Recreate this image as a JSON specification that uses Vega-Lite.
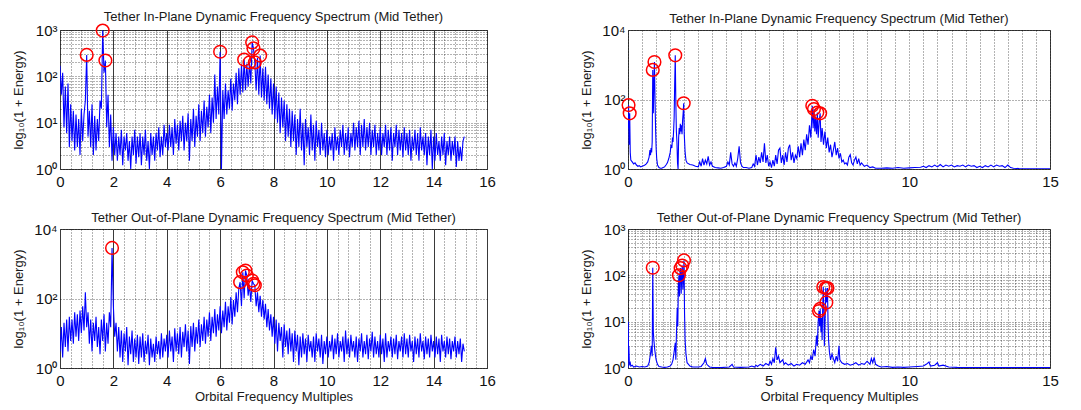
{
  "$schema": "https://vega.github.io/schema/vega-lite/v6.json",
  "background": "white",
  "padding": {"left": 11, "top": 10, "right": 5, "bottom": 5},
  "config": {
    "font": "Liberation Sans",
    "view": {"stroke": "#404040", "strokeWidth": 1},
    "title": {"font": "Liberation Sans", "fontSize": 13, "fontWeight": "normal", "color": "#1a1a1a", "frame": "group", "baseline": "alphabetic", "offset": -3, "anchor": "middle"},
    "axis": {
      "domain": false, "ticks": false, "grid": true, "tickCount": 500,
      "labelFont": "Liberation Sans", "labelFontSize": 15, "labelColor": "#111111", "labelPadding": 5,
      "labelFlush": false, "labelOverlap": false, "labelBound": false,
      "titleFont": "Liberation Sans", "titleFontSize": 13, "titleFontWeight": "normal", "titleColor": "#1a1a1a"
    },
    "axisY": {"titleX": -38, "titleBaseline": "alphabetic", "titleAngle": 270, "labelPadding": 3},
    "axisX": {"titleY": 32, "titleBaseline": "alphabetic"}
  },
  "datasets": {
    "tl": [
      {"f":0,"e":170},{"f":0.05,"e":40},{"f":0.1,"e":120},{"f":0.15,"e":8},{"f":0.2,"e":60},{"f":0.25,"e":6},{"f":0.3,"e":70},{"f":0.35,"e":3},{"f":0.4,"e":25},{"f":0.45,"e":4},{"f":0.5,"e":18},{"f":0.55,"e":2.5},{"f":0.6,"e":15},{"f":0.65,"e":3},{"f":0.7,"e":12},{"f":0.75,"e":2},{"f":0.8,"e":20},{"f":0.85,"e":4},{"f":0.9,"e":15},{"f":0.95,"e":30},
      {"f":1,"e":290},{"f":1.05,"e":5},{"f":1.1,"e":18},{"f":1.15,"e":3},{"f":1.2,"e":25},{"f":1.25,"e":2},{"f":1.3,"e":14},{"f":1.35,"e":2.5},{"f":1.4,"e":12},{"f":1.45,"e":4},{"f":1.5,"e":30},{"f":1.55,"e":20},{"f":1.6,"e":970},{"f":1.65,"e":120},{"f":1.7,"e":220},{"f":1.75,"e":8},{"f":1.8,"e":40},{"f":1.85,"e":3},{"f":1.9,"e":15},{"f":1.95,"e":1.5},
      {"f":2,"e":8},{"f":2.05,"e":2},{"f":2.1,"e":6},{"f":2.15,"e":1.5},{"f":2.2,"e":5},{"f":2.25,"e":2},{"f":2.3,"e":7},{"f":2.35,"e":1.2},{"f":2.4,"e":5},{"f":2.45,"e":2.5},{"f":2.5,"e":6},{"f":2.55,"e":1.5},{"f":2.6,"e":4},{"f":2.65,"e":1},{"f":2.7,"e":5},{"f":2.75,"e":2},{"f":2.8,"e":7},{"f":2.85,"e":1.3},{"f":2.9,"e":5},{"f":2.95,"e":1.8},
      {"f":3,"e":6},{"f":3.05,"e":1.2},{"f":3.1,"e":5},{"f":3.15,"e":2},{"f":3.2,"e":7},{"f":3.25,"e":1.5},{"f":3.3,"e":4},{"f":3.35,"e":1},{"f":3.4,"e":6},{"f":3.45,"e":2},{"f":3.5,"e":5},{"f":3.55,"e":1.5},{"f":3.6,"e":6},{"f":3.65,"e":2.5},{"f":3.7,"e":8},{"f":3.75,"e":1.8},{"f":3.8,"e":5},{"f":3.85,"e":2},{"f":3.9,"e":9},{"f":3.95,"e":3},
      {"f":4,"e":6},{"f":4.05,"e":2.5},{"f":4.1,"e":9},{"f":4.15,"e":3},{"f":4.2,"e":8},{"f":4.25,"e":2},{"f":4.3,"e":12},{"f":4.35,"e":3.5},{"f":4.4,"e":9},{"f":4.45,"e":2.5},{"f":4.5,"e":11},{"f":4.55,"e":4},{"f":4.6,"e":14},{"f":4.65,"e":2.5},{"f":4.7,"e":10},{"f":4.75,"e":4},{"f":4.8,"e":16},{"f":4.85,"e":1.5},{"f":4.9,"e":12},{"f":4.95,"e":4},
      {"f":5,"e":20},{"f":5.05,"e":3},{"f":5.1,"e":14},{"f":5.15,"e":5},{"f":5.2,"e":25},{"f":5.25,"e":4},{"f":5.3,"e":18},{"f":5.35,"e":6},{"f":5.4,"e":30},{"f":5.45,"e":5},{"f":5.5,"e":22},{"f":5.55,"e":8},{"f":5.6,"e":40},{"f":5.65,"e":6},{"f":5.7,"e":35},{"f":5.75,"e":10},{"f":5.8,"e":110},{"f":5.85,"e":12},{"f":5.9,"e":60},{"f":5.95,"e":15},
      {"f":6,"e":340},{"f":6.05,"e":1},{"f":6.1,"e":50},{"f":6.15,"e":12},{"f":6.2,"e":70},{"f":6.25,"e":15},{"f":6.3,"e":50},{"f":6.35,"e":20},{"f":6.4,"e":90},{"f":6.45,"e":18},{"f":6.5,"e":70},{"f":6.55,"e":30},{"f":6.6,"e":120},{"f":6.65,"e":25},{"f":6.7,"e":150},{"f":6.75,"e":40},{"f":6.8,"e":180},{"f":6.85,"e":45},{"f":6.9,"e":230},{"f":6.95,"e":50},
      {"f":7,"e":190},{"f":7.05,"e":60},{"f":7.1,"e":200},{"f":7.15,"e":70},{"f":7.2,"e":540},{"f":7.25,"e":400},{"f":7.3,"e":200},{"f":7.35,"e":50},{"f":7.4,"e":250},{"f":7.45,"e":40},{"f":7.5,"e":280},{"f":7.55,"e":35},{"f":7.6,"e":150},{"f":7.65,"e":30},{"f":7.7,"e":160},{"f":7.75,"e":25},{"f":7.8,"e":110},{"f":7.85,"e":20},{"f":7.9,"e":90},{"f":7.95,"e":15},
      {"f":8,"e":70},{"f":8.05,"e":12},{"f":8.1,"e":60},{"f":8.15,"e":10},{"f":8.2,"e":45},{"f":8.25,"e":6},{"f":8.3,"e":35},{"f":8.35,"e":8},{"f":8.4,"e":30},{"f":8.45,"e":4},{"f":8.5,"e":25},{"f":8.55,"e":5},{"f":8.6,"e":20},{"f":8.65,"e":3},{"f":8.7,"e":18},{"f":8.75,"e":4},{"f":8.8,"e":15},{"f":8.85,"e":2},{"f":8.9,"e":12},{"f":8.95,"e":3},
      {"f":9,"e":20},{"f":9.05,"e":2.5},{"f":9.1,"e":10},{"f":9.15,"e":1.2},{"f":9.2,"e":12},{"f":9.25,"e":3},{"f":9.3,"e":8},{"f":9.35,"e":2},{"f":9.4,"e":15},{"f":9.45,"e":2.5},{"f":9.5,"e":9},{"f":9.55,"e":1.5},{"f":9.6,"e":11},{"f":9.65,"e":3},{"f":9.7,"e":7},{"f":9.75,"e":2},{"f":9.8,"e":10},{"f":9.85,"e":2.5},{"f":9.9,"e":6},{"f":9.95,"e":1.8},
      {"f":10,"e":7},{"f":10.05,"e":2},{"f":10.1,"e":5},{"f":10.15,"e":2.5},{"f":10.2,"e":6},{"f":10.25,"e":1.5},{"f":10.3,"e":8},{"f":10.35,"e":2.5},{"f":10.4,"e":5},{"f":10.45,"e":2},{"f":10.5,"e":7},{"f":10.55,"e":3},{"f":10.6,"e":9},{"f":10.65,"e":2},{"f":10.7,"e":6},{"f":10.75,"e":2.5},{"f":10.8,"e":8},{"f":10.85,"e":1.8},{"f":10.9,"e":6},{"f":10.95,"e":3},
      {"f":11,"e":10},{"f":11.05,"e":2.5},{"f":11.1,"e":8},{"f":11.15,"e":3},{"f":11.2,"e":11},{"f":11.25,"e":2},{"f":11.3,"e":9},{"f":11.35,"e":3},{"f":11.4,"e":12},{"f":11.45,"e":2.5},{"f":11.5,"e":8},{"f":11.55,"e":3},{"f":11.6,"e":10},{"f":11.65,"e":2},{"f":11.7,"e":7},{"f":11.75,"e":3},{"f":11.8,"e":9},{"f":11.85,"e":2},{"f":11.9,"e":6},{"f":11.95,"e":2.5},
      {"f":12,"e":8},{"f":12.05,"e":2},{"f":12.1,"e":6},{"f":12.15,"e":3},{"f":12.2,"e":9},{"f":12.25,"e":2},{"f":12.3,"e":7},{"f":12.35,"e":2.5},{"f":12.4,"e":8},{"f":12.45,"e":1.5},{"f":12.5,"e":6},{"f":12.55,"e":3},{"f":12.6,"e":9},{"f":12.65,"e":2},{"f":12.7,"e":7},{"f":12.75,"e":2.5},{"f":12.8,"e":6},{"f":12.85,"e":1.8},{"f":12.9,"e":8},{"f":12.95,"e":2.5},
      {"f":13,"e":6},{"f":13.05,"e":2},{"f":13.1,"e":7},{"f":13.15,"e":1.5},{"f":13.2,"e":5},{"f":13.25,"e":2.5},{"f":13.3,"e":7},{"f":13.35,"e":2},{"f":13.4,"e":6},{"f":13.45,"e":1.5},{"f":13.5,"e":8},{"f":13.55,"e":2.5},{"f":13.6,"e":5},{"f":13.65,"e":2},{"f":13.7,"e":6},{"f":13.75,"e":1.2},{"f":13.8,"e":5},{"f":13.85,"e":2},{"f":13.9,"e":7},{"f":13.95,"e":1},
      {"f":14,"e":5},{"f":14.05,"e":1.5},{"f":14.1,"e":6},{"f":14.15,"e":2},{"f":14.2,"e":4},{"f":14.25,"e":1.5},{"f":14.3,"e":5},{"f":14.35,"e":2},{"f":14.4,"e":6},{"f":14.45,"e":1.2},{"f":14.5,"e":4},{"f":14.55,"e":2},{"f":14.6,"e":5},{"f":14.65,"e":1.5},{"f":14.7,"e":4},{"f":14.75,"e":2},{"f":14.8,"e":5},{"f":14.85,"e":1.1},{"f":14.9,"e":4},{"f":14.95,"e":1.5},
      {"f":15,"e":3},{"f":15.05,"e":1.5},{"f":15.1,"e":4},{"f":15.15,"e":5}
    ],
    "tlp": [
      {"f":1,"e":290},{"f":1.6,"e":970},{"f":1.7,"e":220},{"f":6,"e":340},{"f":6.9,"e":230},{"f":7.1,"e":200},{"f":7.2,"e":540},{"f":7.25,"e":400},{"f":7.3,"e":200},{"f":7.5,"e":280}
    ],
    "tr": [
      {"f":0,"e":15},{"f":0.02,"e":69},{"f":0.04,"e":5},{"f":0.06,"e":40},{"f":0.08,"e":3},{"f":0.1,"e":1.8},{"f":0.15,"e":1.6},{"f":0.2,"e":1.4},{"f":0.25,"e":1.5},{"f":0.3,"e":1.3},{"f":0.35,"e":1.2},{"f":0.4,"e":1.25},{"f":0.45,"e":1.15},{"f":0.5,"e":1.2},{"f":0.55,"e":1.25},{"f":0.6,"e":1.3},{"f":0.65,"e":1.4},{"f":0.7,"e":1.6},{"f":0.75,"e":2.2},{"f":0.78,"e":3.5},{"f":0.8,"e":2.5},{"f":0.82,"e":4},{"f":0.84,"e":3},{"f":0.86,"e":6},{"f":0.88,"e":710},{"f":0.9,"e":40},{"f":0.92,"e":300},{"f":0.94,"e":1200},{"f":0.96,"e":100},{"f":0.98,"e":15},
      {"f":1,"e":4},{"f":1.02,"e":2},{"f":1.05,"e":1.3},{"f":1.1,"e":1.1},{"f":1.15,"e":1.05},{"f":1.2,"e":1.05},{"f":1.25,"e":1.1},{"f":1.3,"e":1.15},{"f":1.35,"e":1.3},{"f":1.4,"e":1.5},{"f":1.45,"e":2},{"f":1.5,"e":3},{"f":1.53,"e":5},{"f":1.56,"e":4},{"f":1.58,"e":8},{"f":1.6,"e":6},{"f":1.62,"e":12},{"f":1.64,"e":30},{"f":1.66,"e":300},{"f":1.68,"e":1870},{"f":1.7,"e":80},{"f":1.72,"e":12},{"f":1.74,"e":6},{"f":1.76,"e":1.5},{"f":1.78,"e":1},{"f":1.8,"e":8},{"f":1.82,"e":15},{"f":1.84,"e":10},{"f":1.86,"e":20},{"f":1.88,"e":12},{"f":1.9,"e":18},{"f":1.92,"e":10},{"f":1.94,"e":25},{"f":1.96,"e":40},{"f":1.98,"e":78},
      {"f":2,"e":10},{"f":2.03,"e":3},{"f":2.06,"e":1.8},{"f":2.1,"e":1.5},{"f":2.2,"e":1.35},{"f":2.3,"e":1.3},{"f":2.4,"e":1.2},{"f":2.5,"e":1.15},{"f":2.55,"e":1.6},{"f":2.6,"e":1.2},{"f":2.65,"e":2},{"f":2.7,"e":1.3},{"f":2.75,"e":1.8},{"f":2.8,"e":1.4},{"f":2.85,"e":2.3},{"f":2.9,"e":1.3},{"f":2.95,"e":1.6},
      {"f":3,"e":1.2},{"f":3.1,"e":1.1},{"f":3.2,"e":1.08},{"f":3.3,"e":1.05},{"f":3.4,"e":1.1},{"f":3.5,"e":1.2},{"f":3.55,"e":1.6},{"f":3.6,"e":1.3},{"f":3.65,"e":3},{"f":3.7,"e":1.4},{"f":3.75,"e":1.2},{"f":3.8,"e":1.5},{"f":3.85,"e":1.2},{"f":3.9,"e":2},{"f":3.95,"e":4.5},
      {"f":4,"e":1.5},{"f":4.05,"e":1.2},{"f":4.1,"e":1.1},{"f":4.2,"e":1.1},{"f":4.3,"e":1.05},{"f":4.4,"e":1.1},{"f":4.45,"e":1.4},{"f":4.5,"e":1.2},{"f":4.55,"e":2.5},{"f":4.6,"e":1.3},{"f":4.65,"e":2.2},{"f":4.7,"e":1.5},{"f":4.75,"e":3},{"f":4.8,"e":1.6},{"f":4.85,"e":5.5},{"f":4.9,"e":1.5},{"f":4.95,"e":2.5},
      {"f":5,"e":1.2},{"f":5.05,"e":1.6},{"f":5.1,"e":1.1},{"f":5.15,"e":1.8},{"f":5.2,"e":1.2},{"f":5.25,"e":2.5},{"f":5.3,"e":1.4},{"f":5.35,"e":3.5},{"f":5.4,"e":4},{"f":5.45,"e":1.5},{"f":5.5,"e":2.5},{"f":5.55,"e":1.3},{"f":5.6,"e":3},{"f":5.65,"e":1.6},{"f":5.7,"e":4},{"f":5.75,"e":5},{"f":5.8,"e":1.8},{"f":5.85,"e":3},{"f":5.9,"e":1.5},{"f":5.95,"e":2.5},
      {"f":6,"e":2},{"f":6.05,"e":4.5},{"f":6.1,"e":2.2},{"f":6.15,"e":5.5},{"f":6.2,"e":2.5},{"f":6.25,"e":7},{"f":6.3,"e":3.5},{"f":6.35,"e":10},{"f":6.4,"e":5},{"f":6.45,"e":18},{"f":6.5,"e":8},{"f":6.55,"e":66},{"f":6.58,"e":15},{"f":6.61,"e":53},{"f":6.64,"e":12},{"f":6.67,"e":30},{"f":6.7,"e":10},{"f":6.73,"e":42},{"f":6.76,"e":8},{"f":6.8,"e":25},{"f":6.83,"e":40},{"f":6.86,"e":6},{"f":6.9,"e":15},{"f":6.95,"e":5},
      {"f":7,"e":12},{"f":7.05,"e":4},{"f":7.1,"e":8},{"f":7.15,"e":3},{"f":7.2,"e":5},{"f":7.25,"e":2.2},{"f":7.3,"e":3.5},{"f":7.35,"e":6},{"f":7.4,"e":2.5},{"f":7.45,"e":4},{"f":7.5,"e":2},{"f":7.55,"e":2.8},{"f":7.6,"e":1.6},{"f":7.65,"e":1.8},{"f":7.7,"e":1.4},{"f":7.75,"e":1.5},{"f":7.8,"e":1.3},{"f":7.85,"e":2.2},{"f":7.9,"e":2.6},{"f":7.95,"e":1.5},
      {"f":8,"e":1.3},{"f":8.05,"e":1.8},{"f":8.1,"e":2.2},{"f":8.15,"e":1.4},{"f":8.2,"e":2},{"f":8.25,"e":1.3},{"f":8.3,"e":1.5},{"f":8.4,"e":1.2},{"f":8.5,"e":1.3},{"f":8.6,"e":1.1},{"f":8.7,"e":1.15},{"f":8.8,"e":1.05},{"f":9,"e":1.05},{"f":9.2,"e":1.08},{"f":9.4,"e":1.05},{"f":9.6,"e":1.1},{"f":9.8,"e":1.05},
      {"f":10,"e":1.08},{"f":10.2,"e":1.1},{"f":10.4,"e":1.12},{"f":10.5,"e":1.2},{"f":10.6,"e":1.1},{"f":10.7,"e":1.25},{"f":10.8,"e":1.15},{"f":10.9,"e":1.3},{"f":11,"e":1.15},{"f":11.1,"e":1.35},{"f":11.2,"e":1.15},{"f":11.3,"e":1.3},{"f":11.4,"e":1.2},{"f":11.5,"e":1.3},{"f":11.6,"e":1.15},{"f":11.7,"e":1.25},{"f":11.8,"e":1.2},{"f":11.9,"e":1.3},
      {"f":12,"e":1.15},{"f":12.1,"e":1.3},{"f":12.2,"e":1.2},{"f":12.3,"e":1.25},{"f":12.4,"e":1.1},{"f":12.5,"e":1.2},{"f":12.6,"e":1.1},{"f":12.7,"e":1.25},{"f":12.8,"e":1.15},{"f":12.9,"e":1.3},{"f":13,"e":1.15},{"f":13.1,"e":1.3},{"f":13.2,"e":1.2},{"f":13.3,"e":1.25},{"f":13.4,"e":1.1},{"f":13.5,"e":1.3},{"f":13.6,"e":1.1},{"f":13.7,"e":1.05},{"f":13.9,"e":1.03},{"f":14.2,"e":1.02},{"f":14.6,"e":1.02},{"f":15,"e":1.02}
    ],
    "trp": [
      {"f":0.02,"e":69},{"f":0.06,"e":40},{"f":0.88,"e":710},{"f":0.94,"e":1200},{"f":1.68,"e":1870},{"f":1.98,"e":78},{"f":6.55,"e":66},{"f":6.61,"e":53},{"f":6.73,"e":42},{"f":6.83,"e":40}
    ],
    "bl": [
      {"f":0,"e":3},{"f":0.05,"e":15},{"f":0.1,"e":2},{"f":0.15,"e":20},{"f":0.2,"e":4},{"f":0.25,"e":25},{"f":0.3,"e":3},{"f":0.35,"e":30},{"f":0.4,"e":6},{"f":0.45,"e":25},{"f":0.5,"e":5},{"f":0.55,"e":40},{"f":0.6,"e":8},{"f":0.65,"e":35},{"f":0.7,"e":6},{"f":0.75,"e":45},{"f":0.8,"e":10},{"f":0.85,"e":60},{"f":0.9,"e":12},{"f":0.95,"e":150},
      {"f":1,"e":15},{"f":1.05,"e":40},{"f":1.1,"e":5},{"f":1.15,"e":25},{"f":1.2,"e":3},{"f":1.25,"e":20},{"f":1.3,"e":6},{"f":1.35,"e":30},{"f":1.4,"e":4},{"f":1.45,"e":15},{"f":1.5,"e":2.5},{"f":1.55,"e":25},{"f":1.6,"e":6},{"f":1.65,"e":35},{"f":1.7,"e":3},{"f":1.75,"e":20},{"f":1.8,"e":5},{"f":1.85,"e":40},{"f":1.9,"e":15},{"f":1.95,"e":2850},
      {"f":2,"e":60},{"f":2.05,"e":8},{"f":2.1,"e":20},{"f":2.15,"e":3},{"f":2.2,"e":15},{"f":2.25,"e":2},{"f":2.3,"e":12},{"f":2.35,"e":1.5},{"f":2.4,"e":10},{"f":2.45,"e":3},{"f":2.5,"e":15},{"f":2.55,"e":1.2},{"f":2.6,"e":8},{"f":2.65,"e":2.5},{"f":2.7,"e":12},{"f":2.75,"e":1.5},{"f":2.8,"e":7},{"f":2.85,"e":2},{"f":2.9,"e":9},{"f":2.95,"e":1.3},
      {"f":3,"e":8},{"f":3.05,"e":2},{"f":3.1,"e":10},{"f":3.15,"e":1.5},{"f":3.2,"e":6},{"f":3.25,"e":2.5},{"f":3.3,"e":9},{"f":3.35,"e":1.2},{"f":3.4,"e":7},{"f":3.45,"e":2},{"f":3.5,"e":5},{"f":3.55,"e":1.5},{"f":3.6,"e":8},{"f":3.65,"e":2.5},{"f":3.7,"e":6},{"f":3.75,"e":1.8},{"f":3.8,"e":10},{"f":3.85,"e":2},{"f":3.9,"e":7},{"f":3.95,"e":3},
      {"f":4,"e":9},{"f":4.05,"e":2},{"f":4.1,"e":12},{"f":4.15,"e":3},{"f":4.2,"e":8},{"f":4.25,"e":1.5},{"f":4.3,"e":14},{"f":4.35,"e":3},{"f":4.4,"e":10},{"f":4.45,"e":2.5},{"f":4.5,"e":15},{"f":4.55,"e":2},{"f":4.6,"e":11},{"f":4.65,"e":4},{"f":4.7,"e":18},{"f":4.75,"e":3},{"f":4.8,"e":12},{"f":4.85,"e":1.3},{"f":4.9,"e":16},{"f":4.95,"e":4},
      {"f":5,"e":20},{"f":5.05,"e":3},{"f":5.1,"e":15},{"f":5.15,"e":5},{"f":5.2,"e":25},{"f":5.25,"e":4},{"f":5.3,"e":18},{"f":5.35,"e":6},{"f":5.4,"e":30},{"f":5.45,"e":5},{"f":5.5,"e":25},{"f":5.55,"e":8},{"f":5.6,"e":40},{"f":5.65,"e":6},{"f":5.7,"e":30},{"f":5.75,"e":10},{"f":5.8,"e":50},{"f":5.85,"e":8},{"f":5.9,"e":35},{"f":5.95,"e":12},
      {"f":6,"e":60},{"f":6.05,"e":10},{"f":6.1,"e":45},{"f":6.15,"e":15},{"f":6.2,"e":80},{"f":6.25,"e":12},{"f":6.3,"e":60},{"f":6.35,"e":20},{"f":6.4,"e":110},{"f":6.45,"e":18},{"f":6.5,"e":90},{"f":6.55,"e":30},{"f":6.6,"e":150},{"f":6.65,"e":40},{"f":6.7,"e":200},{"f":6.75,"e":295},{"f":6.8,"e":60},{"f":6.85,"e":570},{"f":6.9,"e":100},{"f":6.95,"e":640},
      {"f":7,"e":460},{"f":7.05,"e":120},{"f":7.1,"e":250},{"f":7.15,"e":80},{"f":7.2,"e":330},{"f":7.25,"e":265},{"f":7.3,"e":240},{"f":7.35,"e":60},{"f":7.4,"e":150},{"f":7.45,"e":40},{"f":7.5,"e":120},{"f":7.55,"e":30},{"f":7.6,"e":90},{"f":7.65,"e":25},{"f":7.7,"e":70},{"f":7.75,"e":15},{"f":7.8,"e":50},{"f":7.85,"e":12},{"f":7.9,"e":35},{"f":7.95,"e":8},
      {"f":8,"e":30},{"f":8.05,"e":5},{"f":8.1,"e":25},{"f":8.15,"e":3},{"f":8.2,"e":20},{"f":8.25,"e":6},{"f":8.3,"e":15},{"f":8.35,"e":2},{"f":8.4,"e":18},{"f":8.45,"e":4},{"f":8.5,"e":12},{"f":8.55,"e":2.5},{"f":8.6,"e":14},{"f":8.65,"e":3},{"f":8.7,"e":10},{"f":8.75,"e":1.5},{"f":8.8,"e":12},{"f":8.85,"e":3},{"f":8.9,"e":9},{"f":8.95,"e":1.2},
      {"f":9,"e":8},{"f":9.05,"e":2},{"f":9.1,"e":10},{"f":9.15,"e":2.5},{"f":9.2,"e":7},{"f":9.25,"e":1.5},{"f":9.3,"e":9},{"f":9.35,"e":3},{"f":9.4,"e":6},{"f":9.45,"e":2},{"f":9.5,"e":8},{"f":9.55,"e":1.5},{"f":9.6,"e":10},{"f":9.65,"e":3},{"f":9.7,"e":7},{"f":9.75,"e":2},{"f":9.8,"e":9},{"f":9.85,"e":1.3},{"f":9.9,"e":6},{"f":9.95,"e":2.5},
      {"f":10,"e":8},{"f":10.05,"e":2},{"f":10.1,"e":6},{"f":10.15,"e":3},{"f":10.2,"e":9},{"f":10.25,"e":1.8},{"f":10.3,"e":7},{"f":10.35,"e":2.5},{"f":10.4,"e":10},{"f":10.45,"e":2},{"f":10.5,"e":6},{"f":10.55,"e":3},{"f":10.6,"e":8},{"f":10.65,"e":1.5},{"f":10.7,"e":12},{"f":10.75,"e":2.5},{"f":10.8,"e":7},{"f":10.85,"e":2},{"f":10.9,"e":9},{"f":10.95,"e":3},
      {"f":11,"e":6},{"f":11.05,"e":2},{"f":11.1,"e":8},{"f":11.15,"e":1.5},{"f":11.2,"e":7},{"f":11.25,"e":3},{"f":11.3,"e":10},{"f":11.35,"e":2},{"f":11.4,"e":6},{"f":11.45,"e":2.5},{"f":11.5,"e":9},{"f":11.55,"e":1.8},{"f":11.6,"e":7},{"f":11.65,"e":3},{"f":11.7,"e":11},{"f":11.75,"e":2},{"f":11.8,"e":8},{"f":11.85,"e":2.5},{"f":11.9,"e":6},{"f":11.95,"e":2},
      {"f":12,"e":9},{"f":12.05,"e":2.5},{"f":12.1,"e":7},{"f":12.15,"e":1.5},{"f":12.2,"e":10},{"f":12.25,"e":2},{"f":12.3,"e":6},{"f":12.35,"e":3},{"f":12.4,"e":8},{"f":12.45,"e":2},{"f":12.5,"e":7},{"f":12.55,"e":2.5},{"f":12.6,"e":9},{"f":12.65,"e":1.8},{"f":12.7,"e":6},{"f":12.75,"e":3},{"f":12.8,"e":8},{"f":12.85,"e":2},{"f":12.9,"e":10},{"f":12.95,"e":2.5},
      {"f":13,"e":7},{"f":13.05,"e":2},{"f":13.1,"e":9},{"f":13.15,"e":3},{"f":13.2,"e":6},{"f":13.25,"e":1.5},{"f":13.3,"e":8},{"f":13.35,"e":2.5},{"f":13.4,"e":7},{"f":13.45,"e":2},{"f":13.5,"e":10},{"f":13.55,"e":3},{"f":13.6,"e":6},{"f":13.65,"e":1.8},{"f":13.7,"e":8},{"f":13.75,"e":2.5},{"f":13.8,"e":7},{"f":13.85,"e":2},{"f":13.9,"e":9},{"f":13.95,"e":3},
      {"f":14,"e":6},{"f":14.05,"e":2},{"f":14.1,"e":8},{"f":14.15,"e":2.5},{"f":14.2,"e":7},{"f":14.25,"e":1.5},{"f":14.3,"e":9},{"f":14.35,"e":3},{"f":14.4,"e":6},{"f":14.45,"e":2},{"f":14.5,"e":8},{"f":14.55,"e":2.5},{"f":14.6,"e":7},{"f":14.65,"e":1.8},{"f":14.7,"e":6},{"f":14.75,"e":3},{"f":14.8,"e":8},{"f":14.85,"e":2},{"f":14.9,"e":6},{"f":14.95,"e":2.5},
      {"f":15,"e":7},{"f":15.05,"e":1.5},{"f":15.1,"e":5},{"f":15.15,"e":3}
    ],
    "blp": [
      {"f":1.95,"e":2850},{"f":6.75,"e":295},{"f":6.85,"e":570},{"f":6.95,"e":640},{"f":7,"e":460},{"f":7.2,"e":330},{"f":7.25,"e":265},{"f":7.3,"e":240}
    ],
    "br": [
      {"f":0,"e":1},{"f":0.01,"e":10},{"f":0.02,"e":1.5},{"f":0.03,"e":3},{"f":0.05,"e":1.2},{"f":0.08,"e":1.3},{"f":0.1,"e":1.1},{"f":0.15,"e":1.15},{"f":0.2,"e":1.05},{"f":0.3,"e":1.1},{"f":0.4,"e":1.05},{"f":0.5,"e":1.08},{"f":0.6,"e":1.05},{"f":0.7,"e":1.1},{"f":0.75,"e":1.3},{"f":0.8,"e":2},{"f":0.83,"e":3},{"f":0.86,"e":1.8},{"f":0.88,"e":146},{"f":0.9,"e":6},{"f":0.92,"e":4},{"f":0.95,"e":2.5},{"f":0.98,"e":1.8},
      {"f":1,"e":1.5},{"f":1.05,"e":1.2},{"f":1.1,"e":1.08},{"f":1.2,"e":1.05},{"f":1.3,"e":1.03},{"f":1.4,"e":1.05},{"f":1.5,"e":1.1},{"f":1.55,"e":1.2},{"f":1.6,"e":1.5},{"f":1.65,"e":2.5},{"f":1.68,"e":3.5},{"f":1.7,"e":1.5},{"f":1.72,"e":5},{"f":1.75,"e":20},{"f":1.77,"e":8},{"f":1.79,"e":60},{"f":1.81,"e":100},{"f":1.83,"e":35},{"f":1.85,"e":120},{"f":1.87,"e":143},{"f":1.89,"e":40},{"f":1.91,"e":100},{"f":1.93,"e":163},{"f":1.95,"e":50},{"f":1.97,"e":90},{"f":1.99,"e":210},
      {"f":2.01,"e":15},{"f":2.03,"e":4},{"f":2.06,"e":2},{"f":2.1,"e":1.3},{"f":2.2,"e":1.1},{"f":2.3,"e":1.05},{"f":2.5,"e":1.05},{"f":2.6,"e":1.08},{"f":2.7,"e":1.3},{"f":2.75,"e":1.6},{"f":2.8,"e":1.2},{"f":2.9,"e":1.05},
      {"f":3,"e":1.03},{"f":3.3,"e":1.02},{"f":3.6,"e":1.05},{"f":3.7,"e":1.2},{"f":3.75,"e":1.05},{"f":4,"e":1.03},{"f":4.3,"e":1.05},{"f":4.4,"e":1.1},{"f":4.5,"e":1.05},{"f":4.55,"e":1.15},{"f":4.6,"e":1.08},{"f":4.7,"e":1.2},{"f":4.8,"e":1.1},{"f":4.9,"e":1.25},
      {"f":5,"e":1.15},{"f":5.05,"e":1.4},{"f":5.1,"e":1.2},{"f":5.15,"e":1.6},{"f":5.2,"e":1.3},{"f":5.25,"e":2.8},{"f":5.3,"e":1.5},{"f":5.35,"e":1.8},{"f":5.4,"e":1.3},{"f":5.5,"e":1.5},{"f":5.55,"e":1.2},{"f":5.6,"e":1.3},{"f":5.7,"e":1.15},{"f":5.8,"e":1.25},{"f":5.9,"e":1.1},
      {"f":6,"e":1.2},{"f":6.1,"e":1.15},{"f":6.2,"e":1.3},{"f":6.3,"e":1.2},{"f":6.4,"e":1.5},{"f":6.45,"e":1.3},{"f":6.5,"e":1.8},{"f":6.55,"e":1.5},{"f":6.6,"e":2.5},{"f":6.65,"e":1.8},{"f":6.7,"e":5},{"f":6.73,"e":3},{"f":6.76,"e":10},{"f":6.79,"e":17},{"f":6.81,"e":8},{"f":6.83,"e":19},{"f":6.86,"e":6},{"f":6.88,"e":12},{"f":6.9,"e":4},{"f":6.92,"e":20},{"f":6.94,"e":56},{"f":6.96,"e":20},{"f":6.98,"e":3},
      {"f":7,"e":8},{"f":7.03,"e":53},{"f":7.05,"e":26},{"f":7.07,"e":30},{"f":7.09,"e":53},{"f":7.11,"e":10},{"f":7.13,"e":4},{"f":7.16,"e":2.2},{"f":7.2,"e":1.5},{"f":7.25,"e":2},{"f":7.3,"e":1.6},{"f":7.35,"e":1.3},{"f":7.4,"e":1.8},{"f":7.45,"e":1.4},{"f":7.5,"e":3},{"f":7.53,"e":1.5},{"f":7.6,"e":1.3},{"f":7.7,"e":1.2},{"f":7.8,"e":1.25},{"f":7.9,"e":1.15},
      {"f":8,"e":1.2},{"f":8.1,"e":1.3},{"f":8.2,"e":1.15},{"f":8.3,"e":1.25},{"f":8.4,"e":1.2},{"f":8.5,"e":1.4},{"f":8.6,"e":1.2},{"f":8.65,"e":1.6},{"f":8.7,"e":1.3},{"f":8.75,"e":1.7},{"f":8.8,"e":1.2},{"f":8.9,"e":1.1},
      {"f":9,"e":1.05},{"f":9.2,"e":1.08},{"f":9.4,"e":1.03},{"f":9.6,"e":1.05},{"f":9.8,"e":1.03},{"f":10,"e":1.05},{"f":10.3,"e":1.08},{"f":10.5,"e":1.1},{"f":10.6,"e":1.2},{"f":10.7,"e":1.35},{"f":10.75,"e":1.1},{"f":10.9,"e":1.15},{"f":11,"e":1.3},{"f":11.05,"e":1.1},{"f":11.2,"e":1.15},{"f":11.4,"e":1.05},{"f":11.7,"e":1.03},{"f":12,"e":1.02},{"f":13,"e":1.02},{"f":14,"e":1.02},{"f":15,"e":1.02}
    ],
    "brp": [
      {"f":0.88,"e":146},{"f":1.81,"e":100},{"f":1.87,"e":143},{"f":1.93,"e":163},{"f":1.99,"e":210},{"f":6.79,"e":17},{"f":6.83,"e":19},{"f":6.94,"e":56},{"f":7.03,"e":53},{"f":7.09,"e":53},{"f":7.05,"e":26}
    ]
  },
  "columns": 2,
  "spacing": {"row": 60, "column": 141},
  "bounds": "flush",
  "concat": [
    {
      "width": 427, "height": 139,
      "title": "Tether In-Plane Dynamic Frequency Spectrum (Mid Tether)",
      "layer": [
        {
          "data": {"name": "tl"},
          "mark": {"type": "line", "clip": true, "color": "#0000ff", "strokeWidth": 1.1},
          "encoding": {
            "x": {"field": "f", "type": "quantitative", "title": null,
              "scale": {"domain": [0, 16], "nice": false},
              "axis": {
                "values": [0,0.4,0.8,1.2,1.6,2,2.4,2.8,3.2,3.6,4,4.4,4.8,5.2,5.6,6,6.4,6.8,7.2,7.6,8,8.4,8.8,9.2,9.6,10,10.4,10.8,11.2,11.6,12,12.4,12.8,13.2,13.6,14,14.4,14.8,15.2,15.6,16],
                "tickCount": 500, "labelOverlap": false,
                "labelExpr": "datum.value % 2 === 0 ? '' + datum.value : ''",
                "gridColor": {"condition": {"test": "datum.value % 2 === 0", "value": "#3a3a3a"}, "value": "#000000"},
                "gridDash": {"condition": {"test": "datum.value % 2 === 0", "value": []}, "value": [1, 2]},
                "gridOpacity": {"condition": {"test": "datum.value % 2 === 0", "value": 1}, "value": 0.6}
              }},
            "y": {"field": "e", "type": "quantitative", "title": "log₁₀(1 + Energy)",
              "scale": {"type": "log", "domain": [1, 1000], "nice": false},
              "axis": {
                "values": [1,2,3,4,5,6,7,8,9,10,20,30,40,50,60,70,80,90,100,200,300,400,500,600,700,800,900,1000],
                "tickCount": 500, "labelOverlap": false,
                "labelExpr": "datum.value === 1 ? '10⁰' : datum.value === 10 ? '10¹' : datum.value === 100 ? '10²' : datum.value === 1000 ? '10³' : ''",
                "gridColor": "#000000", "gridDash": [1, 2], "gridOpacity": 0.6
              }}
          }
        },
        {
          "data": {"name": "tlp"},
          "mark": {"type": "point", "shape": "circle", "filled": false, "color": "#ff0000", "strokeWidth": 1.5, "size": 160, "opacity": 1},
          "encoding": {
            "x": {"field": "f", "type": "quantitative", "title": null},
            "y": {"field": "e", "type": "quantitative", "title": "log₁₀(1 + Energy)"}
          }
        }
      ]
    },
    {
      "width": 422, "height": 139,
      "title": "Tether In-Plane Dynamic Frequency Spectrum (Mid Tether)",
      "layer": [
        {
          "data": {"name": "tr"},
          "mark": {"type": "line", "clip": true, "color": "#0000ff", "strokeWidth": 1.1},
          "encoding": {
            "x": {"field": "f", "type": "quantitative", "title": null,
              "scale": {"domain": [0, 15], "nice": false},
              "axis": {
                "values": [0,0.5,1,1.5,2,2.5,3,3.5,4,4.5,5,5.5,6,6.5,7,7.5,8,8.5,9,9.5,10,10.5,11,11.5,12,12.5,13,13.5,14,14.5,15],
                "tickCount": 500, "labelOverlap": false,
                "labelExpr": "datum.value % 5 === 0 ? '' + datum.value : ''",
                "gridColor": "#000000", "gridDash": [1, 2], "gridOpacity": 0.6
              }},
            "y": {"field": "e", "type": "quantitative", "title": "log₁₀(1 + Energy)",
              "scale": {"type": "log", "domain": [1, 10000], "nice": false},
              "axis": {
                "values": [1, 100, 10000],
                "tickCount": 500, "labelOverlap": false,
                "labelExpr": "datum.value === 1 ? '10⁰' : datum.value === 100 ? '10²' : '10⁴'",
                "gridColor": "#000000", "gridDash": [1, 2], "gridOpacity": 0.6
              }}
          }
        },
        {
          "data": {"name": "trp"},
          "mark": {"type": "point", "shape": "circle", "filled": false, "color": "#ff0000", "strokeWidth": 1.5, "size": 160, "opacity": 1},
          "encoding": {
            "x": {"field": "f", "type": "quantitative", "title": null},
            "y": {"field": "e", "type": "quantitative", "title": "log₁₀(1 + Energy)"}
          }
        }
      ]
    },
    {
      "width": 427, "height": 139,
      "title": "Tether Out-of-Plane Dynamic Frequency Spectrum (Mid Tether)",
      "layer": [
        {
          "data": {"name": "bl"},
          "mark": {"type": "line", "clip": true, "color": "#0000ff", "strokeWidth": 1.1},
          "encoding": {
            "x": {"field": "f", "type": "quantitative", "title": "Orbital Frequency Multiples",
              "scale": {"domain": [0, 16], "nice": false},
              "axis": {
                "values": [0,0.4,0.8,1.2,1.6,2,2.4,2.8,3.2,3.6,4,4.4,4.8,5.2,5.6,6,6.4,6.8,7.2,7.6,8,8.4,8.8,9.2,9.6,10,10.4,10.8,11.2,11.6,12,12.4,12.8,13.2,13.6,14,14.4,14.8,15.2,15.6,16],
                "tickCount": 500, "labelOverlap": false,
                "labelExpr": "datum.value % 2 === 0 ? '' + datum.value : ''",
                "gridColor": {"condition": {"test": "datum.value % 2 === 0", "value": "#3a3a3a"}, "value": "#000000"},
                "gridDash": {"condition": {"test": "datum.value % 2 === 0", "value": []}, "value": [1, 2]},
                "gridOpacity": {"condition": {"test": "datum.value % 2 === 0", "value": 1}, "value": 0.6}
              }},
            "y": {"field": "e", "type": "quantitative", "title": "log₁₀(1 + Energy)",
              "scale": {"type": "log", "domain": [1, 10000], "nice": false},
              "axis": {
                "values": [1, 100, 10000],
                "tickCount": 500, "labelOverlap": false,
                "labelExpr": "datum.value === 1 ? '10⁰' : datum.value === 100 ? '10²' : '10⁴'",
                "gridColor": "#000000", "gridDash": [1, 2], "gridOpacity": 0.6
              }}
          }
        },
        {
          "data": {"name": "blp"},
          "mark": {"type": "point", "shape": "circle", "filled": false, "color": "#ff0000", "strokeWidth": 1.5, "size": 160, "opacity": 1},
          "encoding": {
            "x": {"field": "f", "type": "quantitative", "title": "Orbital Frequency Multiples"},
            "y": {"field": "e", "type": "quantitative", "title": "log₁₀(1 + Energy)"}
          }
        }
      ]
    },
    {
      "width": 422, "height": 139,
      "title": "Tether Out-of-Plane Dynamic Frequency Spectrum (Mid Tether)",
      "layer": [
        {
          "data": {"name": "br"},
          "mark": {"type": "line", "clip": true, "color": "#0000ff", "strokeWidth": 1.1},
          "encoding": {
            "x": {"field": "f", "type": "quantitative", "title": "Orbital Frequency Multiples",
              "scale": {"domain": [0, 15], "nice": false},
              "axis": {
                "values": [0,0.25,0.5,0.75,1,1.25,1.5,1.75,2,2.25,2.5,2.75,3,3.25,3.5,3.75,4,4.25,4.5,4.75,5,5.25,5.5,5.75,6,6.25,6.5,6.75,7,7.25,7.5,7.75,8,8.25,8.5,8.75,9,9.25,9.5,9.75,10,10.25,10.5,10.75,11,11.25,11.5,11.75,12,12.25,12.5,12.75,13,13.25,13.5,13.75,14,14.25,14.5,14.75,15],
                "tickCount": 500, "labelOverlap": false,
                "labelExpr": "datum.value % 5 === 0 ? '' + datum.value : ''",
                "gridColor": "#000000", "gridDash": [1, 2], "gridOpacity": 0.6
              }},
            "y": {"field": "e", "type": "quantitative", "title": "log₁₀(1 + Energy)",
              "scale": {"type": "log", "domain": [1, 1000], "nice": false},
              "axis": {
                "values": [1,2,3,4,5,6,7,8,9,10,20,30,40,50,60,70,80,90,100,200,300,400,500,600,700,800,900,1000],
                "tickCount": 500, "labelOverlap": false,
                "labelExpr": "datum.value === 1 ? '10⁰' : datum.value === 10 ? '10¹' : datum.value === 100 ? '10²' : datum.value === 1000 ? '10³' : ''",
                "gridColor": "#000000", "gridDash": [1, 2], "gridOpacity": 0.6
              }}
          }
        },
        {
          "data": {"name": "brp"},
          "mark": {"type": "point", "shape": "circle", "filled": false, "color": "#ff0000", "strokeWidth": 1.5, "size": 160, "opacity": 1},
          "encoding": {
            "x": {"field": "f", "type": "quantitative", "title": "Orbital Frequency Multiples"},
            "y": {"field": "e", "type": "quantitative", "title": "log₁₀(1 + Energy)"}
          }
        }
      ]
    }
  ]
}
